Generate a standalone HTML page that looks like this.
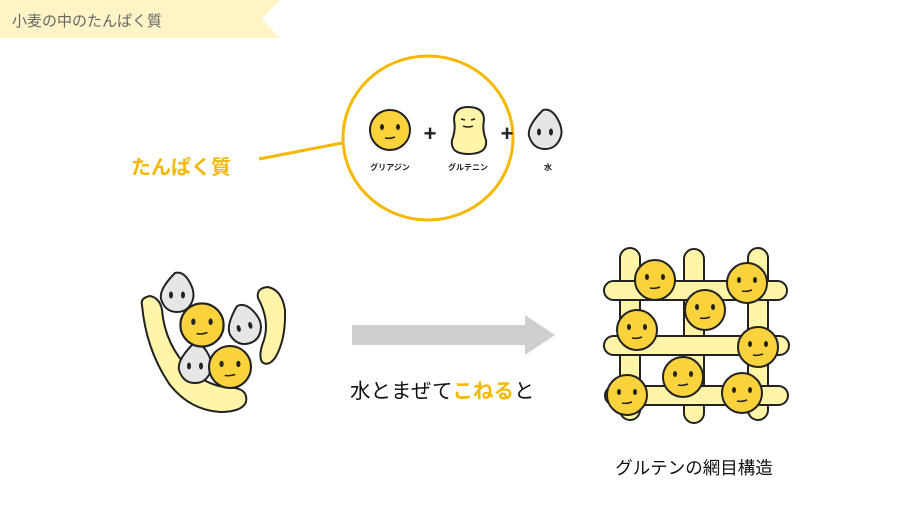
<!DOCTYPE html>
<html><head><meta charset="utf-8"><style>
body{margin:0;width:910px;height:512px;background:#fff;overflow:hidden;font-family:"Liberation Sans","Noto Sans CJK JP",sans-serif}
</style></head><body>
<svg width="910" height="512" viewBox="0 0 910 512" xmlns="http://www.w3.org/2000/svg" font-family="Liberation Sans, Noto Sans CJK JP, sans-serif">
<defs>
<g id="face"><circle r="20" fill="#f9d23c" stroke="#222" stroke-width="2"/><ellipse cx="-8" cy="-3" rx="2" ry="3" fill="#222"/><ellipse cx="8" cy="-3" rx="2" ry="3" fill="#222"/><path d="M-5 8 Q0 9 5 7" stroke="#222" stroke-width="1.5" fill="none"/></g>
<g id="drop"><path d="M-2 -20 Q6 -22 12 -12 Q18 -2 16 6 Q12 19 0 19 Q-12 19 -16 6 Q-18 -4 -2 -20Z" fill="#e6e6e6" stroke="#222" stroke-width="2"/><ellipse cx="-6" cy="2" rx="2" ry="3.5" fill="#222"/><ellipse cx="6" cy="2" rx="2" ry="3.5" fill="#222"/></g>
</defs>
<polygon points="0,0 280,0 262,19 280,38 0,38" fill="#fff4c6"/>
<text x="12" y="26" font-size="15" fill="#666">小麦の中のたんぱく質</text>

<text x="131" y="174" font-size="20" font-weight="bold" fill="#f5b800">たんぱく質</text>
<line x1="259" y1="159" x2="342" y2="143" stroke="#f5b800" stroke-width="3"/>
<ellipse cx="428" cy="138" rx="85" ry="82" fill="none" stroke="#f5b800" stroke-width="3"/>
<use href="#face" x="390" y="130"/>
<text x="430" y="141" font-size="22" font-weight="bold" text-anchor="middle" fill="#222">+</text>
<path d="M468 107 Q484 107 484 120 Q482 130 486 140 Q488 154 468 154 Q450 154 452 140 Q456 130 454 120 Q454 107 468 107Z" fill="#fff4a8" stroke="#222" stroke-width="2"/>
<path d="M461 119 l4 1 M471 120 l4 -1 M463 126 Q468 128 473 126" stroke="#222" stroke-width="1.5" fill="none"/>
<text x="507" y="141" font-size="22" font-weight="bold" text-anchor="middle" fill="#222">+</text>
<use href="#drop" x="545" y="130"/>
<text x="390" y="170" font-size="8" font-weight="bold" text-anchor="middle" fill="#222">グリアジン</text>
<text x="468" y="170" font-size="8" font-weight="bold" text-anchor="middle" fill="#222">グルテニン</text>
<text x="548" y="170" font-size="8" font-weight="bold" text-anchor="middle" fill="#222">水</text>

<!-- left cluster -->
<path d="M142 305 Q140 298 150 296 Q160 298 162 310 Q165 345 190 370 Q210 388 235 388 Q248 390 246 402 Q242 412 220 412 Q190 410 170 385 Q146 350 142 305Z" fill="#fff4a8" stroke="#222" stroke-width="2"/>
<path d="M258 298 Q256 288 268 287 Q282 290 285 310 Q286 340 275 358 Q268 367 262 362 Q258 355 264 340 Q270 320 258 298Z" fill="#fff4a8" stroke="#222" stroke-width="2"/>
<use href="#drop" x="177" y="293"/>
<use href="#drop" x="244" y="325" transform="rotate(-15 244 325)"/>
<use href="#drop" x="195" y="364"/>
<g transform="translate(202 325) scale(1.08)"><use href="#face"/></g>
<g transform="translate(230 367) scale(1.05)"><use href="#face"/></g>

<!-- arrow -->
<polygon points="352,325 525,325 525,315 555,335 525,355 525,345 352,345" fill="#cfcfcf"/>
<text x="350" y="398" font-size="20.5" fill="#111">水とまぜて<tspan fill="#f5b800" font-weight="bold">こねる</tspan>と</text>

<!-- grid -->
<g fill="#fff4a8" stroke="#222" stroke-width="2">
<rect x="620" y="248" width="20" height="172" rx="10"/>
<rect x="684" y="249" width="20" height="174" rx="10"/>
<rect x="748" y="248" width="20" height="172" rx="10"/>
<rect x="604" y="281" width="183" height="19" rx="9.5"/>
<rect x="604" y="336" width="185" height="19" rx="9.5"/>
<rect x="605" y="386" width="183" height="19" rx="9.5"/>
</g>
<use href="#face" x="655" y="280"/>
<use href="#face" x="747" y="283"/>
<use href="#face" x="705" y="310"/>
<use href="#face" x="637" y="330"/>
<use href="#face" x="758" y="347"/>
<use href="#face" x="683" y="377"/>
<use href="#face" x="627" y="395"/>
<use href="#face" x="742" y="393"/>
<text x="694" y="474" font-size="17.5" text-anchor="middle" fill="#111">グルテンの網目構造</text>
</svg>
</body></html>
